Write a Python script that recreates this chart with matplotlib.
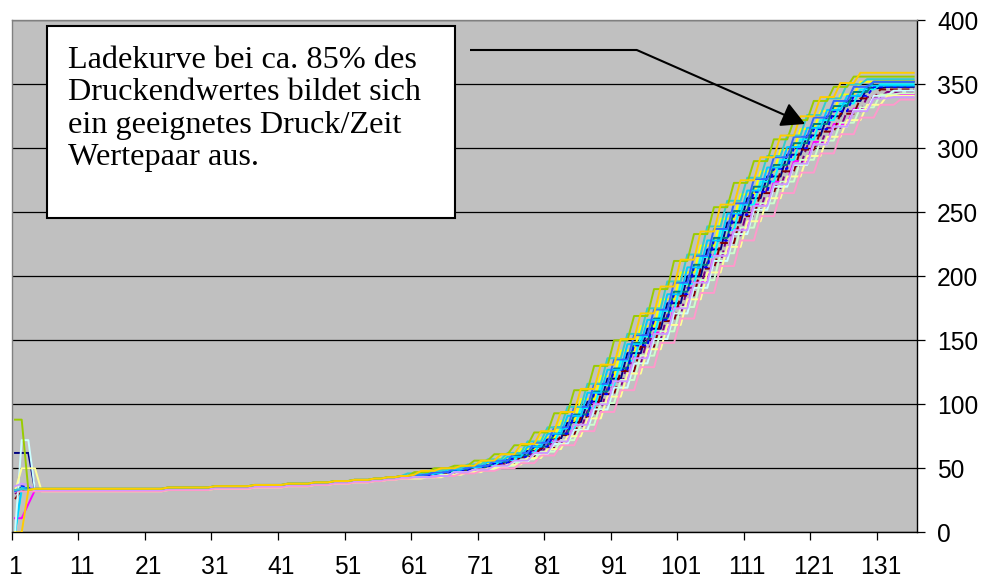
import matplotlib
matplotlib.use("Agg")
import matplotlib.pyplot as plt
from matplotlib.patches import Rectangle

plt.rcParams['font.family'] = ['Liberation Sans', 'DejaVu Sans']

# ---------------- data ----------------
categories = list(range(1, 137))
x_tick_labels = ["1", "11", "21", "31", "41", "51", "61", "71", "81", "91",
                 "101", "111", "121", "131"]
x_label_cats = [1, 11, 21, 31, 41, 51, 61, 71, 81, 91, 101, 111, 121, 131]
x_tick_bounds = [0.5, 10.5, 20.5, 30.5, 40.5, 50.5, 60.5, 70.5, 80.5, 90.5,
                 100.5, 110.5, 120.5, 130.5]
y_ticks = [0, 50, 100, 150, 200, 250, 300, 350, 400]

# slow pressure build-up, categories 4..59
slow_mid = [33, 33, 33, 33, 33, 33, 33, 33, 33, 33,
            33, 33, 33, 33, 33, 33, 33, 33, 33, 33,
            34, 34, 34, 34, 34, 34, 34, 35, 35, 35,
            35, 35, 35, 36, 36, 36, 36, 36, 37, 37,
            37, 37, 38, 38, 38, 39, 39, 39, 40, 40,
            40, 41, 41, 42, 42, 43]
slow_hi = [34, 34, 34, 34, 34, 34, 34, 34, 34, 34,
           34, 34, 34, 34, 34, 34, 34, 34, 34, 34,
           35, 35, 35, 35, 35, 35, 35, 36, 36, 36,
           36, 36, 36, 37, 37, 37, 37, 37, 38, 38,
           38, 38, 39, 39, 39, 40, 40, 40, 41, 41,
           41, 42, 42, 43, 43, 44]
slow_lo = [32, 32, 32, 32, 32, 32, 32, 32, 32, 32,
           32, 32, 32, 32, 32, 32, 32, 32, 32, 32,
           33, 33, 33, 33, 33, 33, 33, 34, 34, 34,
           34, 34, 34, 35, 35, 35, 35, 35, 36, 36,
           36, 36, 37, 37, 37, 38, 38, 38, 39, 39,
           39, 40, 40, 41, 41, 42]

navy = [62, 62, 62] + slow_mid + [
    44, 44, 44, 46, 46, 46, 48, 48, 48, 50, 50, 50, 53, 53, 53, 57, 57, 57,
    64, 64, 64, 73, 73, 73, 86, 86, 86, 102, 102, 102, 120, 120, 120,
    140, 140, 140, 159, 159, 159, 179, 179, 179, 200, 200, 200, 221, 221, 221,
    242, 242, 242, 261, 261, 261, 278, 278, 278, 295, 295, 295, 310, 310, 310,
    325, 325, 325, 337, 337, 337, 347, 347, 347, 348, 348, 348, 348, 348]
magenta = [11, 11, 22] + slow_mid + [
    43, 43, 43, 43, 45, 45, 45, 47, 47, 47, 49, 49, 49, 52, 52, 52, 56, 56, 56,
    63, 63, 63, 72, 72, 72, 84, 84, 84, 101, 101, 101, 118, 118, 118,
    137, 137, 137, 156, 156, 156, 176, 176, 176, 196, 196, 196, 217, 217, 217,
    237, 237, 237, 256, 256, 256, 274, 274, 274, 290, 290, 290, 305, 305, 305,
    319, 319, 319, 331, 331, 331, 341, 341, 341, 342, 342, 342, 342]
yellow = [33, 33, 33] + slow_hi + [
    44, 45, 46, 46, 46, 48, 48, 48, 51, 51, 51, 54, 54, 54, 58, 58, 58,
    65, 65, 65, 74, 74, 74, 87, 87, 87, 104, 104, 104, 122, 122, 122,
    142, 142, 142, 161, 161, 161, 182, 182, 182, 203, 203, 203, 224, 224, 224,
    245, 245, 245, 264, 264, 264, 282, 282, 282, 299, 299, 299, 315, 315, 315,
    329, 329, 329, 342, 342, 342, 352, 352, 352, 353, 353, 353, 353, 353, 353]
cyan = [0, 33, 33] + slow_mid + [
    43, 44, 45, 45, 45, 47, 47, 47, 49, 49, 49, 52, 52, 52, 56, 56, 56,
    62, 62, 62, 70, 70, 70, 81, 81, 81, 97, 97, 97, 115, 115, 115,
    134, 134, 134, 153, 153, 153, 173, 173, 173, 194, 194, 194, 215, 215, 215,
    236, 236, 236, 256, 256, 256, 274, 274, 274, 291, 291, 291, 307, 307, 307,
    322, 322, 322, 335, 335, 335, 346, 346, 346, 350, 350, 350, 350, 350, 350]
purple = [30, 35, 34] + slow_mid + [
    43, 43, 43, 44, 44, 44, 46, 46, 46, 49, 49, 49, 51, 51, 51, 55, 55, 55,
    61, 61, 61, 69, 69, 69, 80, 80, 80, 95, 95, 95, 113, 113, 113,
    132, 132, 132, 151, 151, 151, 170, 170, 170, 191, 191, 191, 211, 211, 211,
    232, 232, 232, 252, 252, 252, 269, 269, 269, 286, 286, 286, 302, 302, 302,
    316, 316, 316, 329, 329, 329, 340, 340, 340, 344, 344, 344, 344, 344]
darkred = [26, 33, 33] + slow_mid + [
    43, 44, 44, 44, 44, 46, 46, 46, 48, 48, 48, 50, 50, 50, 54, 54, 54,
    59, 59, 59, 66, 66, 66, 76, 76, 76, 90, 90, 90, 108, 108, 108,
    126, 126, 126, 145, 145, 145, 165, 165, 165, 185, 185, 185, 206, 206, 206,
    226, 226, 226, 247, 247, 247, 265, 265, 265, 282, 282, 282, 299, 299, 299,
    313, 313, 313, 327, 327, 327, 339, 339, 339, 346, 346, 346, 346, 346, 346]
teal = [33, 35, 34] + slow_mid + [
    43, 45, 45, 45, 47, 47, 47, 49, 49, 49, 51, 51, 51, 55, 55, 55, 60, 60, 60,
    67, 67, 67, 77, 77, 77, 92, 92, 92, 110, 110, 110, 128, 128, 128,
    148, 148, 148, 167, 167, 167, 188, 188, 188, 209, 209, 209, 230, 230, 230,
    251, 251, 251, 270, 270, 270, 287, 287, 287, 304, 304, 304, 319, 319, 319,
    333, 333, 333, 344, 344, 344, 352, 352, 352, 352, 352, 352, 352]
blue = [33, 36, 35] + slow_mid + [
    43, 44, 44, 44, 46, 46, 46, 48, 48, 48, 51, 51, 51, 54, 54, 54, 59, 59, 59,
    67, 67, 67, 77, 77, 77, 91, 91, 91, 108, 108, 108, 127, 127, 127,
    146, 146, 146, 166, 166, 166, 186, 186, 186, 207, 207, 207, 228, 228, 228,
    248, 248, 248, 266, 266, 266, 284, 284, 284, 300, 300, 300, 315, 315, 315,
    329, 329, 329, 341, 341, 341, 348, 348, 348, 348, 348, 348, 348]
sky = [0, 35, 34] + slow_mid + [
    44, 44, 44, 46, 46, 46, 49, 49, 49, 51, 51, 51, 55, 55, 55, 59, 59, 59,
    67, 67, 67, 77, 77, 77, 91, 91, 91, 109, 109, 109, 127, 127, 127,
    147, 147, 147, 166, 166, 166, 186, 186, 186, 207, 207, 207, 228, 228, 228,
    249, 249, 249, 267, 267, 267, 285, 285, 285, 301, 301, 301, 316, 316, 316,
    330, 330, 330, 341, 341, 341, 349, 349, 349, 349, 349, 349, 349, 349]
lightcyan = [0, 72, 72] + slow_mid + [
    43, 43, 43, 43, 44, 44, 44, 47, 47, 47, 49, 49, 49, 51, 51, 51, 55, 55, 55,
    61, 61, 61, 69, 69, 69, 80, 80, 80, 96, 96, 96, 113, 113, 113,
    132, 132, 132, 151, 151, 151, 171, 171, 171, 191, 191, 191, 212, 212, 212,
    233, 233, 233, 252, 252, 252, 270, 270, 270, 287, 287, 287, 303, 303, 303,
    317, 317, 317, 330, 330, 330, 341, 341, 341, 345, 345, 345, 345]
lightgreen = [32, 34, 33] + slow_mid + [
    43, 43, 43, 43, 43, 45, 45, 45, 47, 47, 47, 49, 49, 49, 52, 52, 52,
    57, 57, 57, 63, 63, 63, 72, 72, 72, 84, 84, 84, 101, 101, 101,
    119, 119, 119, 138, 138, 138, 157, 157, 157, 176, 176, 176, 197, 197, 197,
    218, 218, 218, 238, 238, 238, 257, 257, 257, 274, 274, 274, 291, 291, 291,
    306, 306, 306, 320, 320, 320, 332, 332, 332, 342, 342, 342, 343, 343, 343]
lightyellow = [32, 50, 50, 50] + slow_lo[1:] + [
    42, 42, 42, 43, 43, 43, 45, 45, 45, 47, 47, 47, 50, 50, 50, 53, 53, 53,
    58, 58, 58, 65, 65, 65, 75, 75, 75, 89, 89, 89, 106, 106, 106,
    124, 124, 124, 143, 143, 143, 162, 162, 162, 182, 182, 182, 203, 203, 203,
    223, 223, 223, 243, 243, 243, 261, 261, 261, 278, 278, 278, 294, 294, 294,
    309, 309, 309, 322, 322, 322, 334, 334, 334, 341, 341, 341, 341, 341]
rose = [32, 32, 32] + slow_lo + [
    42, 43, 43, 43, 43, 44, 44, 44, 46, 46, 46, 48, 48, 48, 50, 50, 50,
    54, 54, 54, 60, 60, 60, 68, 68, 68, 79, 79, 79, 94, 94, 94,
    111, 111, 111, 129, 129, 129, 148, 148, 148, 167, 167, 167, 187, 187, 187,
    208, 208, 208, 228, 228, 228, 247, 247, 247, 265, 265, 265, 281, 281, 281,
    296, 296, 296, 311, 311, 311, 324, 324, 324, 334, 334, 334, 338, 338, 338]
lavender = [36, 38, 37] + slow_mid + [
    43, 43, 43, 43, 44, 44, 44, 47, 47, 47, 49, 49, 49, 52, 52, 52, 56, 56, 56,
    62, 62, 62, 71, 71, 71, 84, 84, 84, 100, 100, 100, 118, 118, 118,
    136, 136, 136, 155, 155, 155, 175, 175, 175, 195, 195, 195, 216, 216, 216,
    236, 236, 236, 255, 255, 255, 272, 272, 272, 288, 288, 288, 303, 303, 303,
    317, 317, 317, 329, 329, 329, 339, 339, 339, 340, 340, 340, 340]
royal = [32, 34, 34] + slow_hi + [
    44, 45, 45, 45, 47, 47, 47, 50, 50, 50, 52, 52, 52, 56, 56, 56, 62, 62, 62,
    70, 70, 70, 82, 82, 82, 98, 98, 98, 116, 116, 116, 135, 135, 135,
    154, 154, 154, 174, 174, 174, 195, 195, 195, 216, 216, 216, 237, 237, 237,
    257, 257, 257, 276, 276, 276, 293, 293, 293, 309, 309, 309, 324, 324, 324,
    337, 337, 337, 348, 348, 348, 352, 352, 352, 352, 352, 352, 352]
aqua = [33, 34, 33] + slow_hi + [
    46, 46, 46, 48, 48, 48, 50, 50, 50, 53, 53, 53, 57, 57, 57, 62, 62, 62,
    71, 71, 71, 82, 82, 82, 98, 98, 98, 116, 116, 116, 136, 136, 136,
    155, 155, 155, 175, 175, 175, 196, 196, 196, 217, 217, 217, 239, 239, 239,
    259, 259, 259, 277, 277, 277, 294, 294, 294, 310, 310, 310, 326, 326, 326,
    339, 339, 339, 350, 350, 350, 354, 354, 354, 354, 354, 354, 354, 354]
green = [88, 88, 33] + slow_hi + [
    44, 47, 47, 47, 50, 50, 50, 52, 52, 52, 56, 56, 56, 61, 61, 61, 68, 68, 68,
    78, 78, 78, 93, 93, 93, 111, 111, 111, 130, 130, 130, 150, 150, 150,
    169, 169, 169, 190, 190, 190, 212, 212, 212, 233, 233, 233, 254, 254, 254,
    273, 273, 273, 290, 290, 290, 307, 307, 307, 322, 322, 322, 337, 337, 337,
    348, 348, 348, 356, 356, 356, 356, 356, 356, 356, 356, 356, 356]
gold = [0, 0, 33] + slow_hi + [
    44, 45, 48, 48, 48, 50, 50, 50, 52, 52, 52, 56, 56, 56, 61, 61, 61,
    69, 69, 69, 79, 79, 79, 94, 94, 94, 112, 112, 112, 131, 131, 131,
    151, 151, 151, 171, 171, 171, 192, 192, 192, 213, 213, 213, 235, 235, 235,
    256, 256, 256, 275, 275, 275, 293, 293, 293, 310, 310, 310, 325, 325, 325,
    340, 340, 340, 351, 351, 351, 359, 359, 359, 359, 359, 359, 359, 359, 359]

series = [
    (navy, '#000080', '-'),
    (magenta, '#FF00FF', '-'),
    (yellow, '#FFFF00', '-'),
    (cyan, '#00FFFF', '-'),
    (purple, '#800080', (0, (4, 2))),
    (darkred, '#800000', (0, (4, 2))),
    (teal, '#008080', '-'),
    (blue, '#0000FF', (0, (2, 1.5))),
    (sky, '#00CCFF', '-'),
    (lightcyan, '#CCFFFF', '-'),
    (lightgreen, '#CCFFCC', '-'),
    (lightyellow, '#FFFF99', '-'),
    (rose, '#FF99CC', '-'),
    (lavender, '#CC99FF', '-'),
    (royal, '#3366FF', '-'),
    (aqua, '#33CCCC', '-'),
    (green, '#99CC00', '-'),
    (gold, '#FFCC00', '-'),
]

note_text = ("Ladekurve bei ca. 85% des\nDruckendwertes bildet sich\n"
             "ein geeignetes Druck/Zeit\nWertepaar aus.")

# ---------------- figure ----------------
W, H = 986, 584
fig = plt.figure(figsize=(W / 100, H / 100), dpi=100)
fig.patch.set_facecolor('white')
ax_l, ax_r, ax_t, ax_b = 11.7, 917, 20.3, 532.3
ax = fig.add_axes([ax_l / W, 1 - ax_b / H, (ax_r - ax_l) / W, (ax_b - ax_t) / H])
ax.set_facecolor('#C0C0C0')

for vals, col, ls in series:
    ax.plot(categories[:len(vals)], vals, color=col, lw=1.4, ls=ls, zorder=3)

ax.set_xlim(0.5, 136.5)
ax.set_ylim(0, 400)

ax.set_yticks(y_ticks)
ax.yaxis.tick_right()
ax.yaxis.grid(True, color='black', lw=0.9)
ax.set_axisbelow(True)
ax.tick_params(axis='y', which='major', direction='out', length=5.8, width=0.9,
               pad=8.6, labelsize=17.7, right=True, left=False)

ax.set_xticks(x_label_cats)
ax.set_xticklabels(x_tick_labels)
ax.set_xticks(x_tick_bounds, minor=True)
ax.tick_params(axis='x', which='major', length=0, pad=16, labelsize=17.7)
ax.tick_params(axis='x', which='minor', direction='out', length=5.5, width=0.9)

for s in ['left', 'top']:
    ax.spines[s].set_color('#808080')
    ax.spines[s].set_linewidth(1.0)
for s in ['right', 'bottom']:
    ax.spines[s].set_color('black')
    ax.spines[s].set_linewidth(1.0)

# annotation box
bx0, bx1, by0, by1 = 46.7, 455, 26, 218
rect = Rectangle((bx0 / W, 1 - by1 / H), (bx1 - bx0) / W, (by1 - by0) / H,
                 transform=fig.transFigure, facecolor='white', edgecolor='black',
                 lw=1.5, zorder=5)
fig.add_artist(rect)
fig.text(67.8 / W, 1 - 46 / H, note_text, family=['Liberation Serif', 'DejaVu Serif'],
         fontsize=23.2, va='top', ha='left', linespacing=1.15, zorder=6)

# arrow
ax.plot([69.35, 94.4], [376.8, 376.8], color='black', lw=1.5, clip_on=False,
        zorder=7, solid_capstyle='butt')
ax.annotate('', xy=(119.7, 319), xytext=(94.4, 376.8),
            arrowprops=dict(arrowstyle='-|>,head_length=0.6,head_width=0.32',
                            mutation_scale=24, lw=1.5, color='black',
                            shrinkA=0, shrinkB=0),
            annotation_clip=False, zorder=7)

fig.savefig('out.png', dpi=100)
